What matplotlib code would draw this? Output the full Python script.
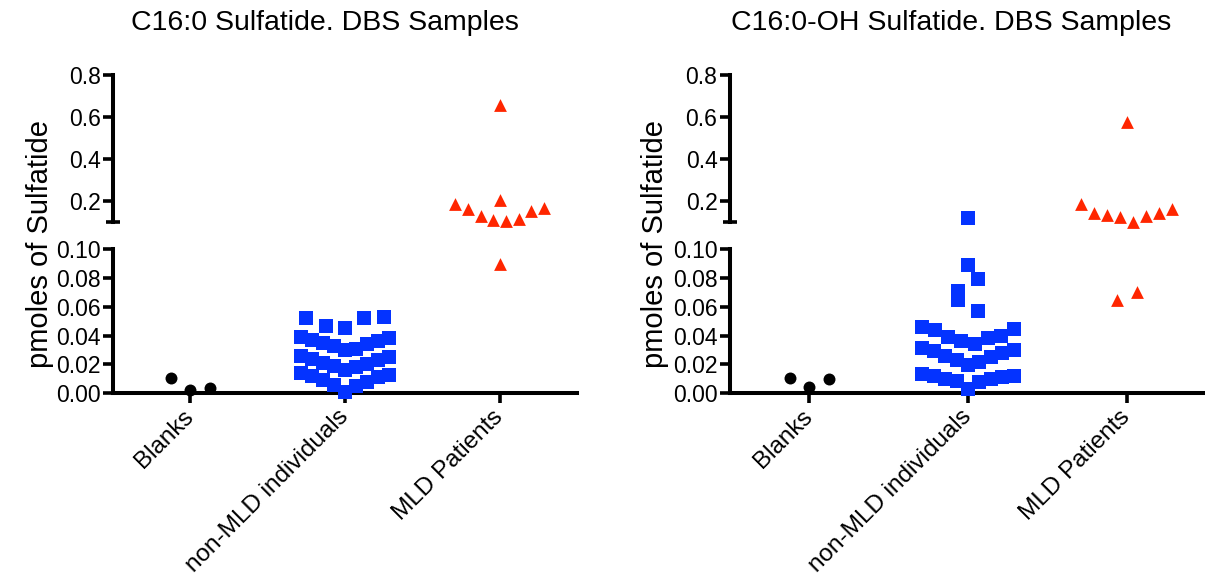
import numpy as np
import matplotlib.pyplot as plt
from matplotlib.ticker import FixedLocator

plt.rcParams['font.family'] = ['Liberation Sans', 'DejaVu Sans']

# ---- data (pmoles of sulfatide) ----
# listed in the order the points get placed inside their row (centre, right, left, ...)
categories = ['Blanks', 'non-MLD individuals', 'MLD Patients']

blanks_c16 = [0.0023, 0.0039, 0.0104]
nonmld_c16 = [0.001, 0.005, 0.006, 0.008, 0.009, 0.011, 0.012, 0.013, 0.014,
              0.016, 0.018, 0.019, 0.020, 0.021, 0.023, 0.024, 0.025, 0.026,
              0.030, 0.031, 0.033, 0.034, 0.035, 0.036, 0.037, 0.038, 0.039,
              0.045, 0.052, 0.0466, 0.0527, 0.0520]
mld_c16 = [0.0896, 0.104, 0.109, 0.112, 0.129, 0.153, 0.161, 0.166, 0.184, 0.204, 0.656]

blanks_oh = [0.0045, 0.0097, 0.0104]
nonmld_oh = [0.0028, 0.0078, 0.0082, 0.0097, 0.0100, 0.0113, 0.0117, 0.0120, 0.0134,
             0.0195, 0.022, 0.023, 0.025, 0.026, 0.028, 0.029, 0.030, 0.0312,
             0.034, 0.0365, 0.0381, 0.0388, 0.0395, 0.0437, 0.0443, 0.0457,
             0.0568, 0.0647, 0.079, 0.0707, 0.0889, 0.117]
mld_oh = [0.0704, 0.0647, 0.101, 0.122, 0.129, 0.134, 0.143, 0.144, 0.161, 0.185, 0.577]

BREAK = 0.1
W, H = 1205, 580
LW = 2.9
BLACK, BLUE, RED = '#000000', '#0433ff', '#ff2600'

fig = plt.figure(figsize=(W / 100, H / 100), dpi=100)


def px_rect(x0, x1, ytop, ybot):
    return [x0 / W, 1 - ybot / H, (x1 - x0) / W, (ybot - ytop) / H]


def swarm_x(ax, cat, vals, max_step=0.125, max_width=0.575, tol_px=19):
    # graphpad style rows: points close in value share a row and spread out
    # from the centre alternately right/left; spacing shrinks for wide rows
    vals = np.asarray(vals, float)
    x = np.full(len(vals), float(cat))
    if len(vals) == 0:
        return x
    ypx = ax.transData.transform(np.column_stack([np.zeros_like(vals), vals]))[:, 1]
    rows, row = [], []
    for i in np.argsort(vals, kind='stable'):
        if row and ypx[i] - ypx[row[0]] >= tol_px:
            rows.append(row)
            row = []
        row.append(i)
    rows.append(row)
    for row in rows:
        row = sorted(row)  # data order inside the row
        n = len(row)
        step = min(max_step, max_width / max(n - 1, 1))
        if n % 2:
            slots = [0] + [s * k for k in range(1, n // 2 + 1) for s in (1, -1)]
        else:
            slots = [s * (k - 0.5) for k in range(1, n // 2 + 1) for s in (1, -1)]
        for i, sl in zip(row, slots):
            x[i] = cat + sl * step
    return x


def panel(x0, x1, title, title_x, ylab_x, groups):
    up = fig.add_axes(px_rect(x0, x1, 75, 221.9))
    lo = fig.add_axes(px_rect(x0, x1, 249, 393.3))
    for ax in (up, lo):
        ax.set_xlim(-0.5, 2.5)
        ax.patch.set_visible(False)
        ax.spines['top'].set_visible(False)
        ax.spines['right'].set_visible(False)
        ax.spines['left'].set_linewidth(LW)
        ax.spines['bottom'].set_linewidth(LW)
        ax.tick_params(which='major', direction='out', length=7.5, width=2.6,
                       labelsize=16.5, pad=1.5)
        ax.tick_params(which='minor', direction='inout', length=10, width=2.6)
        ax.yaxis.set_minor_locator(FixedLocator([BREAK]))
    up.spines['bottom'].set_visible(False)
    up.set_ylim(BREAK, 0.8)
    up.set_yticks([0.2, 0.4, 0.6, 0.8], ['0.2', '0.4', '0.6', '0.8'])
    up.set_xticks([])
    lo.set_ylim(0, BREAK)
    lo.set_yticks([0, 0.02, 0.04, 0.06, 0.08, 0.10],
                  ['0.00', '0.02', '0.04', '0.06', '0.08', '0.10'])
    lo.set_xticks([0, 1, 2])
    lo.set_xticklabels(categories, rotation=45, ha='right', va='center',
                       rotation_mode='anchor', fontsize=17.5)
    lo.tick_params(axis='x', pad=7)

    for cat, (vals, marker, ms, color) in enumerate(groups):
        vals = np.asarray(vals)
        for ax, part in ((lo, vals[vals < BREAK]), (up, vals[vals >= BREAK])):
            xs = swarm_x(ax, cat, part)
            ax.scatter(xs, part, s=ms ** 2, marker=marker, color=color,
                       linewidths=0, clip_on=False, zorder=3)

    fig.text(title_x / W, 1 - 23 / H, title, ha='center', va='center', fontsize=20.5)
    fig.text(ylab_x / W, 1 - 244 / H, 'pmoles of Sulfatide', rotation=90,
             ha='center', va='center', fontsize=21)


panel(113, 577, 'C16:0 Sulfatide. DBS Samples', 325, 40,
      [(blanks_c16, 'o', 8.6, BLACK), (nonmld_c16, 's', 9.5, BLUE), (mld_c16, '^', 9.2, RED)])
panel(730, 1206, 'C16:0-OH Sulfatide. DBS Samples', 951, 655,
      [(blanks_oh, 'o', 8.6, BLACK), (nonmld_oh, 's', 9.5, BLUE), (mld_oh, '^', 9.2, RED)])

fig.savefig('out.png', dpi=100)
